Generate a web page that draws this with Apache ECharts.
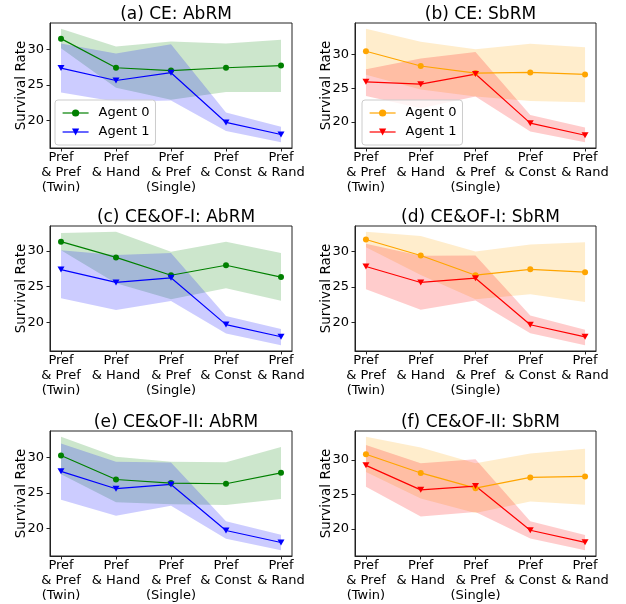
<!DOCTYPE html>
<html>
<head>
<meta charset="utf-8">
<script src="https://cdn.jsdelivr.net/npm/echarts@6/dist/echarts.min.js"></script>
<style>
  html, body { margin: 0; padding: 0; background: #fff; }
  #main { width: 626px; height: 604px; }
</style>
</head>
<body>
<div id="main"></div>
<script>
// categories on the x axis
var categories = ['Pref\n& Pref\n(Twin)', 'Pref\n& Hand', 'Pref\n& Pref\n(Single)', 'Pref\n& Const', 'Pref\n& Rand']
var yTicks = [20, 25, 30]
var titles = ['(a) CE: AbRM', '(b) CE: SbRM', '(c) CE&OF-I: AbRM', '(d) CE&OF-I: SbRM', '(e) CE&OF-II: AbRM', '(f) CE&OF-II: SbRM']

// (a) CE: AbRM
var aAgent0 = [31.5, 27.4, 27.0, 27.4, 27.7]
var aAgent0Hi = [32.9, 30.4, 31.1, 30.8, 31.35]
var aAgent0Lo = [30.15, 24.6, 22.9, 24.0, 24.0]
var aAgent1 = [27.35, 25.6, 26.7, 19.7, 18.0]
var aAgent1Hi = [30.8, 29.4, 30.7, 21.1, 19.1]
var aAgent1Lo = [23.9, 22.6, 22.8, 18.5, 16.9]

// (b) CE: SbRM
var bAgent0 = [30.5, 28.3, 27.25, 27.35, 27.05]
var bAgent0Hi = [33.85, 31.9, 30.8, 31.6, 31.1]
var bAgent0Lo = [27.0, 24.8, 23.75, 23.1, 22.9]
var bAgent1 = [25.95, 25.6, 27.1, 19.8, 18.0]
var bAgent1Hi = [27.8, 29.4, 30.4, 21.0, 19.15]
var bAgent1Lo = [23.85, 22.0, 23.75, 18.55, 16.95]

// (c) CE&OF-I: AbRM
var cAgent0 = [31.3, 29.1, 26.6, 28.0, 26.35]
var cAgent0Hi = [32.5, 32.7, 29.9, 31.3, 29.7]
var cAgent0Lo = [30.1, 25.5, 23.25, 24.8, 23.05]
var cAgent1 = [27.4, 25.6, 26.25, 19.7, 18.0]
var cAgent1Hi = [30.1, 29.45, 29.7, 20.9, 19.1]
var cAgent1Lo = [23.4, 21.75, 23.0, 18.45, 16.8]

// (d) CE&OF-I: SbRM
var dAgent0 = [31.7, 29.45, 26.67, 27.5, 27.1]
var dAgent0Hi = [32.8, 32.2, 30.0, 31.0, 31.3]
var dAgent0Lo = [30.6, 26.7, 23.3, 24.0, 22.9]
var dAgent1 = [27.9, 25.65, 26.25, 19.7, 18.0]
var dAgent1Hi = [31.1, 29.4, 29.45, 21.0, 19.0]
var dAgent1Lo = [24.7, 21.8, 23.1, 18.5, 16.8]

// (e) CE&OF-II: AbRM
var eAgent0 = [30.3, 26.9, 26.4, 26.3, 27.85]
var eAgent0Hi = [32.95, 30.1, 29.4, 29.35, 31.5]
var eAgent0Lo = [27.65, 23.7, 23.4, 23.3, 24.15]
var eAgent1 = [28.05, 25.6, 26.2, 19.7, 18.0]
var eAgent1Hi = [32.0, 29.4, 29.3, 21.0, 19.1]
var eAgent1Lo = [24.05, 21.8, 23.2, 18.55, 16.9]

// (f) CE&OF-II: SbRM
var fAgent0 = [30.8, 28.1, 25.9, 27.45, 27.6]
var fAgent0Hi = [33.35, 31.8, 29.5, 30.9, 31.6]
var fAgent0Lo = [28.25, 24.4, 22.3, 23.95, 23.5]
var fAgent1 = [29.2, 25.65, 26.2, 19.8, 18.05]
var fAgent1Hi = [32.15, 29.5, 30.1, 21.1, 19.1]
var fAgent1Lo = [26.1, 21.8, 22.45, 18.6, 16.9]

var panels = [
  [aAgent0, aAgent0Hi, aAgent0Lo, aAgent1, aAgent1Hi, aAgent1Lo],
  [bAgent0, bAgent0Hi, bAgent0Lo, bAgent1, bAgent1Hi, bAgent1Lo],
  [cAgent0, cAgent0Hi, cAgent0Lo, cAgent1, cAgent1Hi, cAgent1Lo],
  [dAgent0, dAgent0Hi, dAgent0Lo, dAgent1, dAgent1Hi, dAgent1Lo],
  [eAgent0, eAgent0Hi, eAgent0Lo, eAgent1, eAgent1Hi, eAgent1Lo],
  [fAgent0, fAgent0Hi, fAgent0Lo, fAgent1, fAgent1Hi, fAgent1Lo]
]

var FONT = 'DejaVu Sans'
var letters = ['a', 'b', 'c', 'd', 'e', 'f']
// left column AbRM: green / blue, right column SbRM: orange / red
var colorsAb = ['#008000', '#0000ff']
var colorsSb = ['#ffa500', '#ff0000']
var triangleDown = 'path://M0,0 L10,0 L5,8.66 Z'

var colLeft = [50, 355]
var colWidth = [242, 241]
var rowTop = [23, 226, 431]
var plotH = 125

var option = {
  animation: false,
  title: [],
  grid: [],
  xAxis: [],
  yAxis: [],
  legend: [],
  series: []
}

panels.forEach(function (p, k) {
  var col = k % 2
  var row = Math.floor(k / 2)
  var colors = col === 0 ? colorsAb : colorsSb
  var left = colLeft[col]
  var top = rowTop[row]

  // matplotlib-like 5% margins on y
  var all = [].concat(p[1], p[2], p[4], p[5])
  var lo = Math.min.apply(null, all)
  var hi = Math.max.apply(null, all)
  var pad = (hi - lo) * 0.05

  option.title.push({
    text: titles[k],
    left: left + colWidth[col] / 2,
    top: top - 22,
    textAlign: 'center',
    textStyle: { fontFamily: FONT, fontSize: 17, fontWeight: 'normal', color: '#000' }
  })
  option.grid.push({
    left: left, top: top, width: colWidth[col], height: plotH,
    show: true, borderColor: '#222', borderWidth: 1, backgroundColor: 'transparent'
  })
  option.xAxis.push({
    type: 'value', gridIndex: k, min: -0.2, max: 4.2,
    axisLine: { show: true, onZero: false, lineStyle: { color: '#222', width: 1 } },
    splitLine: { show: false },
    axisTick: { show: true, length: 3.5, customValues: [0, 1, 2, 3, 4], lineStyle: { color: '#222' } },
    axisLabel: {
      customValues: [0, 1, 2, 3, 4],
      formatter: function (v) { return categories[Math.round(v)] },
      fontFamily: FONT, fontSize: 13, lineHeight: 15, margin: 2, color: '#000'
    }
  })
  option.yAxis.push({
    type: 'value', gridIndex: k, min: lo - pad, max: hi + pad,
    name: 'Survival Rate', nameLocation: 'middle', nameGap: 22, nameMoveOverlap: false,
    nameTextStyle: { fontFamily: FONT, fontSize: 13.5, color: '#000' },
    axisLine: { show: true, onZero: false, lineStyle: { color: '#222', width: 1 } },
    splitLine: { show: false },
    axisTick: { show: true, length: 3.5, customValues: yTicks, lineStyle: { color: '#222' } },
    axisLabel: { customValues: yTicks, fontFamily: FONT, fontSize: 13, margin: 6, color: '#000' }
  })

  ;[0, 1].forEach(function (agent) {
    var upper = p[agent * 3 + 1]
    var lower = p[agent * 3 + 2]
    // shaded band between lower and upper
    option.series.push({
      type: 'custom', name: letters[k] + ':band' + agent,
      coordinateSystem: 'cartesian2d', xAxisIndex: k, yAxisIndex: k,
      data: [[0, lower[0]]], z: 1, silent: true,
      renderItem: function (params, api) {
        var pts = []
        upper.forEach(function (v, i) { pts.push(api.coord([i, v])) })
        for (var i = lower.length - 1; i >= 0; i--) pts.push(api.coord([i, lower[i]]))
        return {
          type: 'polygon',
          shape: { points: pts },
          style: { fill: colors[agent], opacity: 0.2 }
        }
      }
    })
  })
  ;[0, 1].forEach(function (agent) {
    var mean = p[agent * 3]
    option.series.push({
      type: 'line', name: letters[k] + ':Agent ' + agent,
      xAxisIndex: k, yAxisIndex: k, z: 3,
      data: mean.map(function (v, i) { return [i, v] }),
      symbol: agent === 0 ? 'circle' : triangleDown,
      symbolSize: agent === 0 ? 6 : [7, 6],
      showSymbol: true,
      itemStyle: { color: colors[agent] },
      lineStyle: { color: colors[agent], width: 1.2 }
    })
  })
})

// legends only in the top row
;[[55, 100], [362, 100]].forEach(function (pos, k) {
  option.legend.push({
    left: pos[0], top: pos[1], orient: 'vertical',
    data: [letters[k] + ':Agent 0', letters[k] + ':Agent 1'],
    formatter: function (name) { return name.slice(2) },
    itemWidth: 26, itemHeight: 9, itemGap: 5,
    padding: [6, 6, 6, 7],
    borderColor: '#ccc', borderWidth: 1, borderRadius: 3,
    backgroundColor: 'rgba(255,255,255,0.8)',
    lineStyle: { width: 1.2 },
    textStyle: { fontFamily: FONT, fontSize: 13, color: '#000', padding: [0, 0, 0, 5], lineHeight: 14 },
    selectedMode: false
  })
})

var myChart = echarts.init(document.getElementById('main'))
myChart.setOption(option)
</script>
</body>
</html>
